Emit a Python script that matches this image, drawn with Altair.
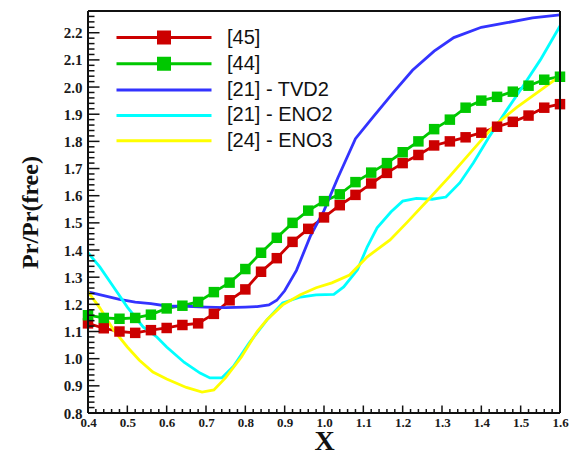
import altair as alt
import pandas as pd

# ---- data -------------------------------------------------------------
x_ref45 = [0.40, 0.44, 0.48, 0.52, 0.56, 0.60, 0.64, 0.68, 0.72, 0.76, 0.80,
           0.84, 0.88, 0.92, 0.96, 1.00, 1.04, 1.08, 1.12, 1.16, 1.20, 1.24,
           1.28, 1.32, 1.36, 1.40, 1.44, 1.48, 1.52, 1.56, 1.60]
y_ref45 = [1.130, 1.112, 1.100, 1.095, 1.105, 1.113, 1.124, 1.130, 1.165, 1.215,
           1.255, 1.320, 1.370, 1.430, 1.478, 1.520, 1.565, 1.603, 1.645, 1.684,
           1.720, 1.750, 1.785, 1.800, 1.815, 1.832, 1.854, 1.872, 1.895, 1.924,
           1.937]

x_ref44 = x_ref45
y_ref44 = [1.160, 1.150, 1.147, 1.150, 1.162, 1.185, 1.195, 1.209, 1.245, 1.280,
           1.330, 1.390, 1.445, 1.500, 1.545, 1.580, 1.605, 1.650, 1.685, 1.720,
           1.760, 1.800, 1.845, 1.880, 1.924, 1.950, 1.964, 1.983, 2.005, 2.027,
           2.038]

x_tvd2 = [0.40, 0.44, 0.48, 0.52, 0.56, 0.60, 0.65, 0.70, 0.75, 0.80, 0.83,
          0.86, 0.88, 0.90, 0.93, 0.965, 1.00, 1.035, 1.08, 1.125, 1.175, 1.225,
          1.28, 1.33, 1.40, 1.465, 1.53, 1.60]
y_tvd2 = [1.246, 1.232, 1.218, 1.208, 1.203, 1.194, 1.193, 1.190, 1.188, 1.190,
          1.192, 1.198, 1.215, 1.250, 1.325, 1.450, 1.545, 1.665, 1.810, 1.890,
          1.978, 2.062, 2.132, 2.182, 2.220, 2.237, 2.255, 2.266]

x_eno2 = [0.40, 0.43, 0.465, 0.50, 0.54, 0.575, 0.60, 0.645, 0.685, 0.71, 0.74,
          0.77, 0.81, 0.855, 0.895, 0.94, 0.98, 1.025, 1.05, 1.085, 1.11, 1.135,
          1.17, 1.20, 1.235, 1.275, 1.31, 1.345, 1.38, 1.42, 1.465, 1.505, 1.55,
          1.60]
y_eno2 = [1.390, 1.338, 1.264, 1.190, 1.117, 1.080, 1.043, 0.986, 0.947, 0.929,
          0.929, 0.972, 1.058, 1.143, 1.205, 1.227, 1.235, 1.237, 1.264, 1.327,
          1.412, 1.482, 1.540, 1.580, 1.590, 1.587, 1.595, 1.647, 1.721, 1.817,
          1.916, 2.001, 2.100, 2.225]

x_eno3 = [0.40, 0.43, 0.465, 0.50, 0.53, 0.565, 0.60, 0.65, 0.69, 0.72, 0.75,
          0.79, 0.83, 0.855, 0.895, 0.94, 0.98, 1.02, 1.065, 1.11, 1.168, 1.21,
          1.265, 1.32, 1.375, 1.43, 1.49, 1.55, 1.60]
y_eno3 = [1.246, 1.187, 1.106, 1.043, 0.995, 0.951, 0.925, 0.894, 0.877, 0.885,
          0.930, 1.006, 1.100, 1.143, 1.198, 1.235, 1.261, 1.279, 1.308, 1.375,
          1.437, 1.500, 1.585, 1.672, 1.763, 1.854, 1.925, 1.988, 2.040]

series_names = ["[45]", "[44]", "[21] - TVD2", "[21] - ENO2", "[24] - ENO3"]
series_colors = ["#cc0000", "#00c800", "#3333ff", "#00ffff", "#ffff00"]
marker_series = ["[45]", "[44]"]

x_ticks = [0.4, 0.5, 0.6, 0.7, 0.8, 0.9, 1.0, 1.1, 1.2, 1.3, 1.4, 1.5, 1.6]
y_ticks = [0.8, 0.9, 1.0, 1.1, 1.2, 1.3, 1.4, 1.5, 1.6, 1.7, 1.8, 1.9, 2.0,
           2.1, 2.2]
x_minor = [round(0.4 + 0.02 * i, 2) for i in range(61) if i % 5]
y_minor = [round(0.8 + 0.02 * i, 2) for i in range(74) if i % 5]

# ---- tidy tables --------------------------------------------------------
colour_of = dict(zip(series_names, series_colors))
rows = []
for name, xs, ys in zip(series_names,
                        [x_ref45, x_ref44, x_tvd2, x_eno2, x_eno3],
                        [y_ref45, y_ref44, y_tvd2, y_eno2, y_eno3]):
    for i, (xv, yv) in enumerate(zip(xs, ys)):
        rows.append({"series": name, "colour": colour_of[name],
                     "x": xv, "y": yv, "i": i})
df = pd.DataFrame(rows)
markers_df = df[df["series"].isin(marker_series)]
legend_df = df.groupby("series", sort=False).head(1)

# ---- styling ------------------------------------------------------------
W, H = 472, 402
X_DOM = [0.4, 1.6]
Y_DOM = [0.8, 2.28]
SERIF = "Liberation Serif"
SANS = "Liberation Sans"
INK = "#111111"

# pixel -> data-unit factors, used to give the inward ticks a fixed length
PX_X = (X_DOM[1] - X_DOM[0]) / W
PX_Y = (Y_DOM[1] - Y_DOM[0]) / H

x_scale = alt.Scale(domain=X_DOM, nice=False, zero=False)
y_scale = alt.Scale(domain=Y_DOM, nice=False, zero=False)
colour_scale = alt.Scale(domain=series_names, range=series_colors)

# legend glyphs: a long line, with a square in the middle for the marker series
line_sq = "M-1,0H8.5M3.2,-0.55H4.3V0.55H3.2Z"
line_only = "M-1,0H8.5"
shape_scale = alt.Scale(domain=series_names,
                        range=[line_sq, line_sq, line_only, line_only, line_only])

legend = alt.Legend(
    title=None, orient="none", legendX=27, legendY=15, padding=0,
    symbolSize=400, symbolStrokeWidth=3, symbolOpacity=1,
    labelFont=SANS, labelFontSize=20, labelColor=INK,
    labelOffset=89, rowPadding=3.3, labelLimit=300,
)

x_axis = alt.Axis(
    values=x_ticks, format=".1f", ticks=False, domain=False,
    grid=False, labelFont=SERIF, labelFontWeight="bold", labelFontSize=13,
    labelColor="#1a1a1a", labelPadding=3, labelFlush=False, labelOverlap=False,
    title="X", titleFont=SERIF, titleFontSize=28, titleFontWeight="bold",
    titleColor=INK, titleY=36, titleBaseline="alphabetic",
)
y_axis = alt.Axis(
    values=y_ticks, format=".1f", ticks=False, domain=False,
    grid=False, labelFont=SERIF, labelFontWeight="bold", labelFontSize=15,
    labelColor="#1a1a1a", labelPadding=6, labelFlush=False, labelOverlap=False,
    title="Pr/Pr(free)", titleFont=SERIF, titleFontSize=24,
    titleFontWeight="bold", titleColor=INK, titleX=-58, titleY=H / 2,
    titleAngle=270, titleAlign="center", titleBaseline="middle",
)

X = alt.X("x:Q", scale=x_scale, axis=x_axis)
Y = alt.Y("y:Q", scale=y_scale, axis=y_axis)

# ---- frame and inward ticks as one table of segments -----------------------
seg = []
# frame: bottom, top, left, right
seg.append((X_DOM[0], X_DOM[1], Y_DOM[0], Y_DOM[0], 2.0))
seg.append((X_DOM[0], X_DOM[1], Y_DOM[1], Y_DOM[1], 2.0))
seg.append((X_DOM[0], X_DOM[0], Y_DOM[0], Y_DOM[1], 2.0))
seg.append((X_DOM[1], X_DOM[1], Y_DOM[0], Y_DOM[1], 2.0))
# ticks on the bottom edge, pointing up
for values, length in ((x_minor, 4), (x_ticks, 7.5)):
    for v in values:
        seg.append((v, v, Y_DOM[0], Y_DOM[0] + length * PX_Y, 1.5))
# ticks on the left edge, pointing right
for values, length in ((y_minor, 6.5), (y_ticks, 11.5)):
    for v in values:
        seg.append((X_DOM[0], X_DOM[0] + length * PX_X, v, v, 1.5))
seg_df = pd.DataFrame(seg, columns=["x", "x1", "y", "y1", "w"])

# ---- layers -------------------------------------------------------------
lines = alt.Chart(df).mark_line(strokeWidth=2.8, clip=False).encode(
    x=X, y=Y,
    stroke=alt.Stroke("colour:N", scale=None),
    detail="series:N",
    order=alt.Order("i:Q"),
)

squares = alt.Chart(markers_df).mark_square(size=110, opacity=1).encode(
    x=X, y=Y,
    fill=alt.Fill("colour:N", scale=None),
)

legend_layer = alt.Chart(legend_df).mark_point(
    filled=True, opacity=0, strokeWidth=3, size=400
).encode(
    x=X, y=Y,
    fill=alt.Fill("series:N", scale=colour_scale, legend=legend),
    stroke=alt.Stroke("series:N", scale=colour_scale, legend=legend),
    shape=alt.Shape("series:N", scale=shape_scale, legend=legend),
)

frame_ticks = alt.Chart(seg_df).mark_rule(color=INK).encode(
    x=X, x2="x1:Q", y=Y, y2="y1:Q",
    strokeWidth=alt.StrokeWidth("w:Q", scale=None),
)

chart = (
    alt.layer(lines, squares, legend_layer, frame_ticks)
    .properties(
        width=W, height=H,
        autosize=alt.AutoSizeParams(type="none"),
        padding={"left": 88, "top": 11, "right": 9, "bottom": 40},
    )
    .configure_view(stroke="transparent")
)

chart.save("out.html", embed_options={"renderer": "svg", "actions": False})
